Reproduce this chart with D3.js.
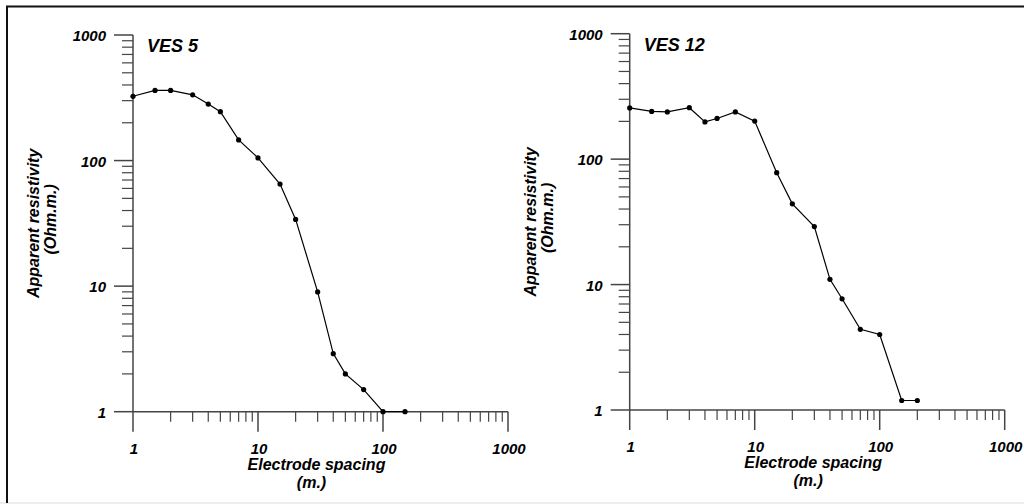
<!DOCTYPE html>
<html>
<head>
<meta charset="utf-8">
<script src="https://cdn.jsdelivr.net/npm/d3@7"></script>
<style>
  html, body { margin: 0; padding: 0; background: #fff; }
  svg text { font-family: "Liberation Sans", Arial, sans-serif; font-weight: bold; font-style: italic; fill: #000; }
</style>
</head>
<body>
<svg id="chart" width="1024" height="504"></svg>
<script>
// Sounding data
const ves5Spacing = [1, 1.5, 2, 3, 4, 5, 7, 10, 15, 20, 30, 40, 50, 70, 100, 150];
const ves5Rho     = [325, 362, 362, 334, 282, 245, 146, 105, 65, 34, 9, 2.9, 2, 1.5, 1, 1];

const ves12Spacing = [1, 1.5, 2, 3, 4, 5, 7, 10, 15, 20, 30, 40, 50, 70, 100, 150, 200];
const ves12Rho     = [256, 240, 238, 257, 198, 211, 238, 201, 78, 44, 29, 11, 7.7, 4.4, 4.0, 1.19, 1.19];

const majorTicks = [1, 10, 100, 1000];
const tickLabels = ['1', '10', '100', '1000'];

const svg = d3.select('#chart');

// page frame: left + top black rule, light strip at bottom
svg.append('rect').attr('x', 0).attr('y', 502).attr('width', 1024).attr('height', 2).attr('fill', '#eeeeee');
svg.append('path').attr('d', 'M7,503V6.5H1024').attr('fill', 'none').attr('stroke', '#111').attr('stroke-width', 2);

/* ------------------------------------------------------------------ */
/*  One log-log panel                                                  */
/* ------------------------------------------------------------------ */

function drawPanel(opts) {
  const { x0, x1, yTop, yBottom, title, spacing, rho } = opts;
  const x = d3.scaleLog().domain([1, 1000]).range([x0, x1]);
  const y = d3.scaleLog().domain([1, 1000]).range([yBottom, yTop]);
  const g = svg.append('g');

  // minor ticks 2..9 in every decade
  const minor = [];
  for (let d = 1; d < 1000; d *= 10) for (let k = 2; k <= 9; k++) minor.push(d * k);

  const axisColor = '#444';

  // x axis
  g.append('line').attr('x1', x0).attr('x2', x1).attr('y1', yBottom).attr('y2', yBottom)
    .attr('stroke', axisColor).attr('stroke-width', 1.5);
  g.selectAll('.xminor').data(minor).enter().append('line')
    .attr('x1', d => x(d)).attr('x2', d => x(d))
    .attr('y1', yBottom).attr('y2', yBottom + 10)
    .attr('stroke', axisColor).attr('stroke-width', 1.2);
  g.selectAll('.xmajor').data(majorTicks).enter().append('line')
    .attr('x1', d => x(d)).attr('x2', d => x(d))
    .attr('y1', yBottom).attr('y2', yBottom + 20)
    .attr('stroke', axisColor).attr('stroke-width', 1.5);
  g.selectAll('.xlab').data(majorTicks).enter().append('text')
    .attr('x', d => x(d) + 1).attr('y', yBottom + 42)
    .attr('text-anchor', 'middle').attr('font-size', 15)
    .text((d, i) => tickLabels[i]);

  // y axis
  g.append('line').attr('x1', x0).attr('x2', x0).attr('y1', yTop).attr('y2', yBottom)
    .attr('stroke', axisColor).attr('stroke-width', 1.5);
  g.selectAll('.yminor').data(minor).enter().append('line')
    .attr('x1', x0 - 11).attr('x2', x0)
    .attr('y1', d => y(d)).attr('y2', d => y(d))
    .attr('stroke', axisColor).attr('stroke-width', 1.2);
  g.selectAll('.ymajor').data(majorTicks).enter().append('line')
    .attr('x1', x0 - 19).attr('x2', x0)
    .attr('y1', d => y(d)).attr('y2', d => y(d))
    .attr('stroke', axisColor).attr('stroke-width', 1.5);
  g.selectAll('.ylab').data(majorTicks).enter().append('text')
    .attr('x', x0 - 27).attr('y', d => y(d) + 6)
    .attr('text-anchor', 'end').attr('font-size', 15)
    .text((d, i) => tickLabels[i]);

  // axis titles
  const xc = (x0 + x1) / 2;
  g.append('text').attr('x', xc - 4).attr('y', yBottom + 58)
    .attr('text-anchor', 'middle').attr('font-size', 16).text('Electrode spacing');
  g.append('text').attr('x', xc - 9).attr('y', yBottom + 76)
    .attr('text-anchor', 'middle').attr('font-size', 16).text('(m.)');

  const yc = (yTop + yBottom) / 2;
  g.append('text').attr('transform', `translate(${x0 - 94},${yc}) rotate(-90)`)
    .attr('text-anchor', 'middle').attr('font-size', 16).text('Apparent resistivity');
  g.append('text').attr('transform', `translate(${x0 - 77},${yc - 4}) rotate(-90)`)
    .attr('text-anchor', 'middle').attr('font-size', 16).text('(Ohm.m.)');

  // panel title
  g.append('text').attr('x', x0 + 14).attr('y', yTop + 17)
    .attr('font-size', 18).text(title);

  // curve
  const pts = spacing.map((s, i) => [s, rho[i]]);
  g.append('path').datum(pts)
    .attr('d', d3.line().x(d => x(d[0])).y(d => y(d[1])))
    .attr('fill', 'none').attr('stroke', '#000').attr('stroke-width', 1.2);
  g.selectAll('.pt').data(pts).enter().append('circle')
    .attr('cx', d => x(d[0])).attr('cy', d => y(d[1])).attr('r', 2.6)
    .attr('fill', '#000');
}

drawPanel({ x0: 133, x1: 508, yTop: 35, yBottom: 411.7, title: 'VES 5', spacing: ves5Spacing, rho: ves5Rho });
drawPanel({ x0: 629.7, x1: 1004.7, yTop: 33.7, yBottom: 410, title: 'VES 12', spacing: ves12Spacing, rho: ves12Rho });
</script>
</body>
</html>
